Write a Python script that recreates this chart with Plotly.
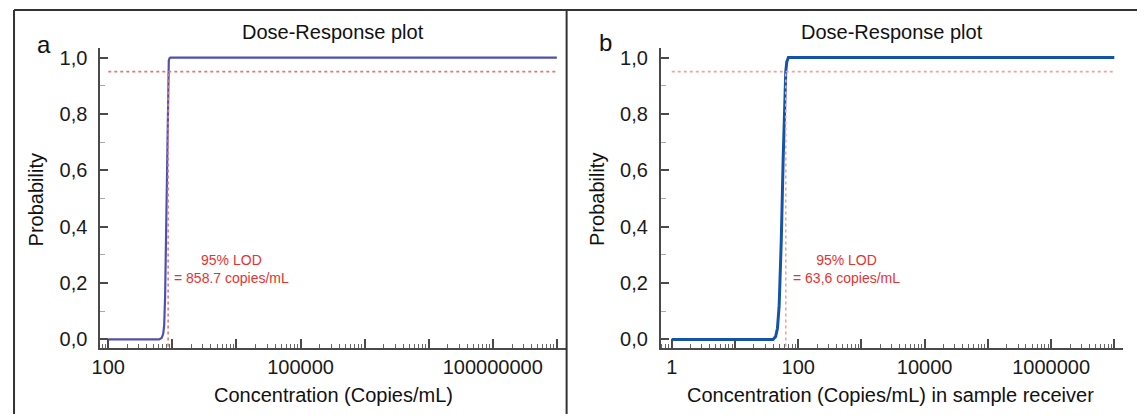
import plotly.graph_objects as go

# ---------------- data ----------------
a_conc = [100, 620, 680, 720, 745, 770, 795, 820, 840, 858.7, 880, 905, 930, 1e9]
a_prob = [0, 0, 0.005, 0.02, 0.05, 0.15, 0.35, 0.6, 0.8, 0.95, 0.99, 0.998, 1.0, 1.0]
a_lod = 858.7
a_span = [100, 1e9]

b_conc = [1, 40, 44, 47, 50, 54, 58, 61, 63.6, 66, 68, 70, 1e7]
b_prob = [0, 0, 0.01, 0.04, 0.12, 0.35, 0.65, 0.85, 0.95, 0.985, 0.998, 1.0, 1.0]
b_lod = 63.6
b_span = [1, 1e7]

level = 0.95

y_ticks = [0, 0.2, 0.4, 0.6, 0.8, 1.0]
y_ticktext = ["0,0", "0,2", "0,4", "0,6", "0,8", "1,0"]
y_minor = [0.1, 0.3, 0.5, 0.7, 0.9]

a_decades = [1e1, 1e2, 1e3, 1e4, 1e5, 1e6, 1e7, 1e8, 1e9]
a_ticktext = ["", "100", "", "", "100000", "", "", "100000000", ""]
b_decades = [0.1, 1, 1e1, 1e2, 1e3, 1e4, 1e5, 1e6, 1e7]
b_ticktext = ["", "1", "", "100", "", "10000", "", "1000000", ""]

OFF = 8    # page body margin of the html page
OFFX = 13  # measured horizontal offset
W, H = 1145 - OFF, 416 - OFF
FONT = "Arial, Liberation Sans, sans-serif"
AX = "#4a4a4a"

def px(x):
    return (x - OFFX) / W

def py(y):
    return 1 - (y - OFF) / H

def minor_vals(decades):
    return [d * m for d in decades for m in range(2, 10)]

fig = go.Figure()

# panel a
fig.add_trace(go.Scatter(x=a_span, y=[level, level], mode="lines",
                         line=dict(color="#e07a7a", width=1.6, dash="dot"),
                         xaxis="x3", yaxis="y", showlegend=False, hoverinfo="skip"))
fig.add_trace(go.Scatter(x=[a_lod, a_lod], y=[-0.025, level], mode="lines",
                         line=dict(color="#e07a7a", width=1.6, dash="dot"),
                         xaxis="x", yaxis="y5", showlegend=False, hoverinfo="skip"))
fig.add_trace(go.Scatter(x=a_conc, y=a_prob, mode="lines",
                         line=dict(color="#4f4fb3", width=2.2),
                         xaxis="x", yaxis="y", showlegend=False))

# panel b
fig.add_trace(go.Scatter(x=b_span, y=[level, level], mode="lines",
                         line=dict(color="#f2a0a0", width=1.6, dash="dot"),
                         xaxis="x4", yaxis="y2", showlegend=False, hoverinfo="skip"))
fig.add_trace(go.Scatter(x=[b_lod, b_lod], y=[-0.025, level], mode="lines",
                         line=dict(color="#f2a0a0", width=1.6, dash="dot"),
                         xaxis="x2", yaxis="y6", showlegend=False, hoverinfo="skip"))
fig.add_trace(go.Scatter(x=b_conc, y=b_prob, mode="lines",
                         line=dict(color="#1553a6", width=3),
                         xaxis="x2", yaxis="y2", showlegend=False))

ydom = [py(350), py(47)]
yrng = [-0.032, 1.035]
a_dom, a_rng = [px(97), px(567)], [1.876, 9.152]
b_dom, b_rng = [px(662), px(1128)], [-0.172, 7.14]

def xaxis(domain, rng, decades, text, anchor):
    return dict(
        domain=domain, type="log", range=rng, anchor=anchor,
        showgrid=False, zeroline=False,
        showline=True, linecolor=AX, linewidth=2,
        tickmode="array", tickvals=decades, ticktext=text,
        ticks="inside", ticklen=9, tickwidth=1.5, tickcolor=AX,
        tickfont=dict(family=FONT, size=20, color="#1a1a1a"),
        ticklabelstandoff=0, tickangle=0,
    )

def xminor(domain, rng, decades, over, anchor):
    return dict(
        domain=domain, type="log", range=rng, overlaying=over, anchor=anchor,
        side="bottom", showgrid=False, zeroline=False, showline=False,
        tickmode="array", tickvals=minor_vals(decades),
        ticks="inside", ticklen=4, tickwidth=1, tickcolor="#666",
        showticklabels=False,
    )

def yaxis(anchor):
    return dict(
        domain=ydom, range=yrng, anchor=anchor,
        showgrid=False, zeroline=False,
        showline=True, linecolor=AX, linewidth=2,
        tickmode="array", tickvals=y_ticks, ticktext=y_ticktext,
        ticks="inside", ticklen=8, tickwidth=1.5, tickcolor=AX,
        tickfont=dict(family=FONT, size=20, color="#1a1a1a"),
        ticklabelstandoff=7,
    )

def yminor(over, anchor):
    return dict(
        domain=ydom, range=yrng, overlaying=over, anchor=anchor, side="left",
        showgrid=False, zeroline=False, showline=False,
        tickmode="array", tickvals=y_minor,
        ticks="inside", ticklen=5, tickwidth=1, tickcolor="#aaa",
        showticklabels=False,
    )

fig.update_layout(
    width=W, height=H,
    margin=dict(l=0, r=0, t=0, b=0),
    paper_bgcolor="white", plot_bgcolor="white",
    xaxis=xaxis(a_dom, a_rng, a_decades, a_ticktext, "y"),
    yaxis=yaxis("x"),
    xaxis2=xaxis(b_dom, b_rng, b_decades, b_ticktext, "y2"),
    yaxis2=yaxis("x2"),
    xaxis3=xminor(a_dom, a_rng, a_decades, "x", "y"),
    xaxis4=xminor(b_dom, b_rng, b_decades, "x2", "y2"),
    yaxis5=yminor("y", "x"),
    yaxis6=yminor("y2", "x2"),
)

ann = []
def text(x, y, s, size, color="#111", angle=0):
    ann.append(dict(x=px(x), y=py(y), xref="paper", yref="paper", text=s,
                    showarrow=False, textangle=angle, xanchor="center", yanchor="middle",
                    font=dict(family=FONT, size=size, color=color)))

text(332, 31, "Dose-Response plot", 20)
text(895, 31, "Dose-Response plot", 20)
text(40, 44, "a", 24)
text(606, 42, "b", 24)
text(32, 200, "Probability", 20, angle=-90)
text(597, 200, "Probability", 20, angle=-90)
text(332, 397, "Concentration (Copies/mL)", 20)
text(893, 397, "Concentration (Copies/mL) in sample receiver", 20)
text(229, 270, "95% LOD<br>= 858.7 copies/mL", 14, color="#e5332f")
text(849, 270, "95% LOD<br>= 63,6 copies/mL", 14, color="#e5332f")
fig.update_layout(annotations=ann)

border = dict(color="#333", width=2)
fig.update_layout(shapes=[
    dict(type="line", xref="paper", yref="paper", x0=px(10), x1=1, y0=py(9), y1=py(9), line=border),
    dict(type="line", xref="paper", yref="paper", x0=px(10), x1=px(10), y0=py(9), y1=0, line=border),
    dict(type="line", xref="paper", yref="paper", x0=px(567), x1=px(567), y0=py(9), y1=0, line=border),
])

fig.write_html("out.html")
